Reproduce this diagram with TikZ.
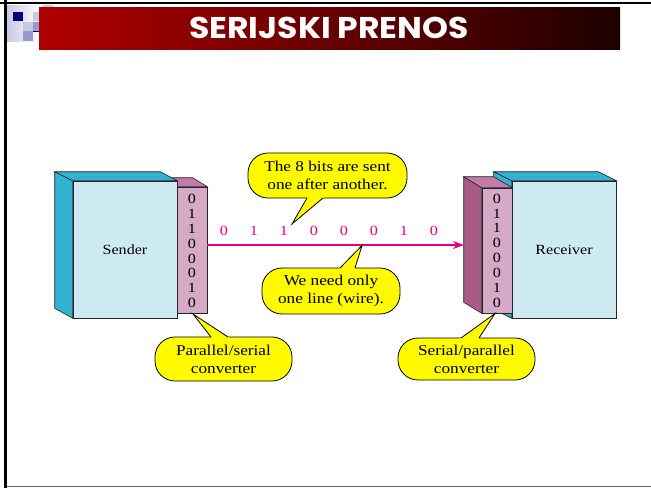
\documentclass[tikz,border=0pt]{standalone}
\usepackage{fontspec}
\setmainfont{Liberation Serif}[FakeStretch=1.15]
\newfontfamily\titlefont{Poppins}[FakeStretch=1.1]
\usetikzlibrary{arrows.meta,calc}
\definecolor{cyanlight}{HTML}{CDEAF2}
\definecolor{cyandark}{HTML}{33B1D1}
\definecolor{pinkfront}{HTML}{D6A9C6}
\definecolor{pinktop}{HTML}{C27AA9}
\definecolor{pinkside}{HTML}{A95B88}
\definecolor{bubyellow}{HTML}{FFFA00}
\definecolor{wiremag}{HTML}{E5007D}
\definecolor{titleleft}{HTML}{B00000}
\definecolor{titleright}{HTML}{1E0000}
\definecolor{navy}{HTML}{000080}
\definecolor{lav1}{HTML}{C8C8E2}
\definecolor{lav2}{HTML}{9999CC}
\tikzset{
  face/.style={draw=black!85, line width=0.6pt, fill=#1, inner sep=0pt},
  bubble/.style={draw=black, line width=0.8pt, fill=bubyellow, rounded corners=20pt,
    align=center, inner sep=0pt, font=\fontsize{15}{18}\selectfont},
  tailline/.style={draw=black, line width=0.8pt, line join=miter},
  bit/.style={inner sep=0pt, font=\fontsize{14}{14}\selectfont},
  wirebit/.style={bit, text=wiremag},
  wire/.style={draw=wiremag, line width=1.8pt, -{Stealth[length=11pt,width=8pt]}},
  boxlabel/.style={font=\fontsize{14}{14}\selectfont}
}
\begin{document}
\begin{tikzpicture}[x=1pt,y=-1pt]
\useasboundingbox (0,0) rectangle (651,488);
\fill[white] (0,0) rectangle (651,488);
% slide frame
\draw[black, line width=2pt] (0,2.5) -- (651,2.5);
\draw[black!60, line width=1.5pt] (5,486.5) -- (651,486.5);
\draw[black, line width=2.5pt] (5.3,0) -- (5.3,488);
% corner decoration
\shade[left color=lav1, right color=white] (7,5) rectangle (40,41);
\fill[lav1] (43,5) rectangle (53,15);
\fill[navy] (13,12) rectangle (23,21);
\fill[lav1] (33,12) rectangle (39,21);
\fill[lav1] (23,22) rectangle (33,31);
\fill[lav2] (23,31) rectangle (33,41);
\fill[lav2] (33,22) rectangle (39,31);
\draw[navy, line width=0.8pt] (33,31) -- (40,31);
% title bar
\shade[left color=titleleft, right color=titleright] (39,7) rectangle (620,49);
\node[text=white, inner sep=0pt, font=\titlefont\bfseries\fontsize{30}{30}\selectfont] (title) at (329,27.5) {SERIJSKI PRENOS};

% ---- sender side ----
\node[face=pinkfront, minimum width=30, minimum height=126] (conv1) at (192,250) {};
\filldraw[face=pinktop] (conv1.north west) -- ++(-14,-9) -- ++(30,0) -- (conv1.north east) -- cycle;
\node[face=cyanlight, boxlabel, minimum width=104, minimum height=137] (sender) at (125,249.5) {Sender};
\filldraw[face=cyandark] (sender.north west) -- ++(-18,-9) -- ($(sender.south west)+(-18,-10)$) -- (sender.south west) -- cycle;
\filldraw[face=cyandark] (sender.north west) -- ++(-18,-9) -- ($(sender.north east)+(-17,-9)$) -- (sender.north east) -- cycle;
\foreach \b [count=\i from 0] in {0,1,1,0,0,0,1,0}
  \node[bit] (sb\i) at (192,{199+14.86*\i}) {\b};

% ---- receiver side ----
\node[face=cyanlight, boxlabel, minimum width=104, minimum height=137] (receiver) at (564,249.5) {Receiver};
\filldraw[face=cyandark] (receiver.north west) -- ++(-18,-9) -- ($(receiver.south west)+(-18,-9)$) -- (receiver.south west) -- cycle;
\filldraw[face=cyandark] (receiver.north west) -- ++(-18,-9) -- ($(receiver.north east)+(-18,-9)$) -- (receiver.north east) -- cycle;
\node[face=pinkfront, minimum width=30, minimum height=125] (conv2) at (497,250.5) {};
\filldraw[face=pinkside] (conv2.north west) -- ++(-18,-11) -- ($(conv2.south west)+(-18,-11)$) -- (conv2.south west) -- cycle;
\filldraw[face=pinktop] (conv2.north west) -- ++(-18,-11) -- ++(30,0) -- (conv2.north east) -- cycle;
\foreach \b [count=\i from 0] in {0,1,1,0,0,0,1,0}
  \node[bit] (rb\i) at (497,{198.5+14.93*\i}) {\b};

% ---- wire ----
\coordinate (rxin) at (464,245);
\draw[wire] ($(conv1.east)+(0,-5)$) -- (rxin);
\foreach \b [count=\i from 0] in {0,1,1,0,0,0,1,0}
  \node[wirebit] (wb\i) at ({224+30*\i},231) {\b};

% ---- callouts ----
\node[bubble, minimum width=159, minimum height=45] (bub1) at (327.5,175.5) {The 8 bits are sent\\one after another.};
\coordinate (t1) at (292,224); \coordinate (t1a) at (307,198); \coordinate (t1b) at (323,198);
\fill[bubyellow] (t1) -- ($(t1)!1.2!(t1a)$) -- ($(t1)!1.2!(t1b)$) -- cycle;
\draw[tailline] (t1a) -- (t1) -- (t1b);

\node[bubble, minimum width=138, minimum height=46] (bub2) at (331,291) {We need only\\one line (wire).};
\coordinate (t2) at (362,245.5); \coordinate (t2a) at (340,268); \coordinate (t2b) at (355,268);
\fill[bubyellow] (t2) -- ($(t2)!1.2!(t2a)$) -- ($(t2)!1.2!(t2b)$) -- cycle;
\draw[tailline] (t2a) -- (t2) -- (t2b);

\node[bubble, minimum width=137, minimum height=44] (bub3) at (223.5,359) {Parallel/serial\\converter};
\coordinate (t3) at (193,314); \coordinate (t3a) at (211,337); \coordinate (t3b) at (228,337);
\fill[bubyellow] (t3) -- ($(t3)!1.2!(t3a)$) -- ($(t3)!1.2!(t3b)$) -- cycle;
\draw[tailline] (t3a) -- (t3) -- (t3b);

\node[bubble, minimum width=137, minimum height=42] (bub4) at (466.5,359) {Serial/parallel\\converter};
\coordinate (t4) at (495,313.5); \coordinate (t4a) at (461,338); \coordinate (t4b) at (479,338);
\fill[bubyellow] (t4) -- ($(t4)!1.2!(t4a)$) -- ($(t4)!1.2!(t4b)$) -- cycle;
\draw[tailline] (t4a) -- (t4) -- (t4b);
\end{tikzpicture}
\end{document}
